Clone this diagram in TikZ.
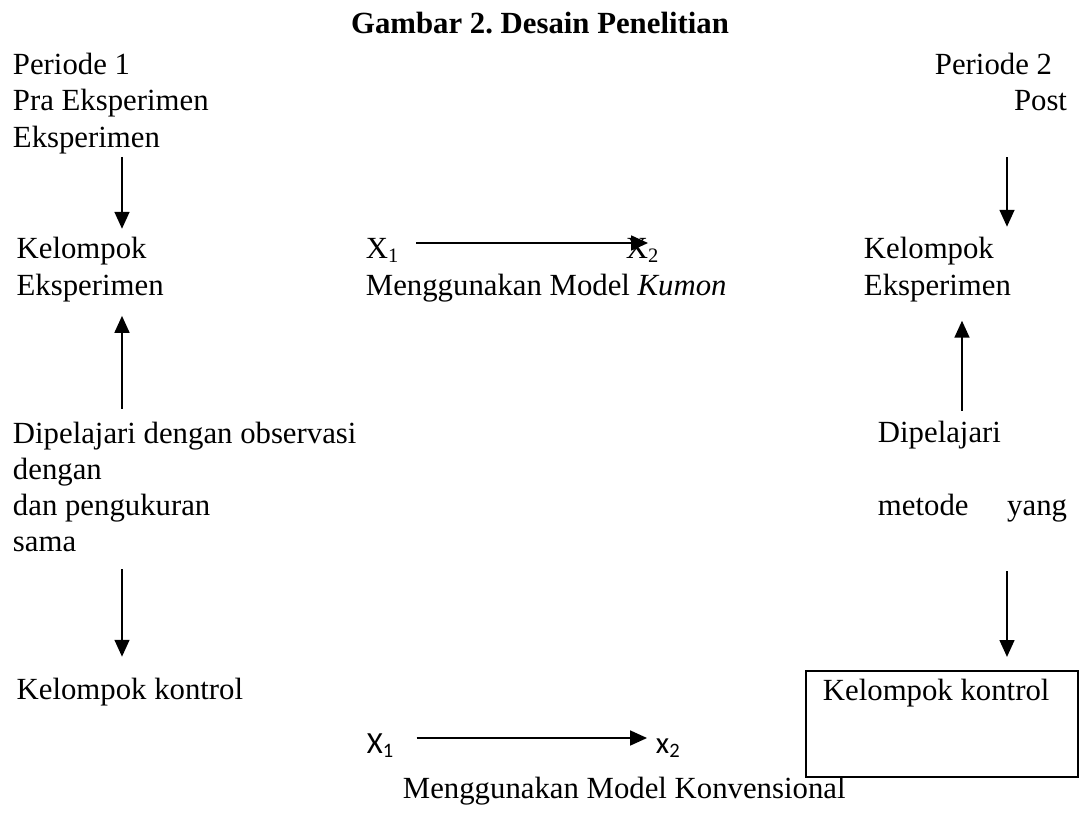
\documentclass[tikz,border=0pt]{standalone}
\usepackage{fontspec}
\setmainfont{Liberation Serif}
\newfontfamily\calibri{Carlito}
\usetikzlibrary{arrows.meta}
\def\pxsep{0.39pt}

\begin{document}
\begin{tikzpicture}[x=\pxsep, y=-\pxsep, line width=0.75pt, font=\fontsize{12pt}{14pt}\selectfont]
    \tikzstyle{txt}=[inner sep=0pt, anchor=base west]
    \tikzstyle{txtr}=[inner sep=0pt, anchor=base east]
    \tikzstyle{arr}=[-{Triangle[length=6.6pt,width=5.8pt]}]
    \tikzstyle{box}=[draw, inner sep=0pt, anchor=north west, minimum width=106.1pt, minimum height=41.3pt]

    \useasboundingbox (0,0) rectangle (1079,819);

    % Title
    \node[anchor=base, inner sep=0pt, font=\fontsize{12pt}{14pt}\selectfont\bfseries] (title) at (540,33) {Gambar 2.\ Desain Penelitian};

    % Columns and rows of the arrows
    \coordinate (colL) at (122,0);
    \coordinate (colM) at (962,0);
    \coordinate (colR) at (1007,0);
    \coordinate (rowT) at (0,243);
    \coordinate (rowB) at (0,738);

    % Draw the left column
    \foreach \name / \y / \txt in {1/74/Periode 1, 2/110/Pra Eksperimen, 3/147/Eksperimen}
        \node[txt] (P1-\name) at (12,\y) {\txt};
    \foreach \name / \y / \txt in {1/258/Kelompok, 2/295/Eksperimen}
        \node[txt] (K1-\name) at (15.7,\y) {\txt};
    \foreach \name / \y / \txt in {1/443/Dipelajari dengan observasi, 2/479/dengan, 3/515/dan pengukuran, 4/551/sama}
        \node[txt] (D1-\name) at (12,\y) {\txt};
    \node[txt] (KK1) at (15.7,699) {Kelompok kontrol};

    % Draw the right column
    \node[txtr] (P2-1) at (1053,74) {Periode 2};
    \node[txtr] (P2-2) at (1068,110) {Post};
    \foreach \name / \y / \txt in {1/258/Kelompok, 2/295/Eksperimen}
        \node[txt] (K2-\name) at (863,\y) {\txt};
    \node[txt] (D2-1) at (877,442) {Dipelajari};
    \node[txt] (D2-2) at (877,515) {metode};
    \node[txtr] (D2-3) at (1068,515) {yang};
    \node[box] (B2) at (805,670) {};
    \node[txt] (KK2) at (822,700) {Kelompok kontrol};

    % Draw the middle
    \node[txt] (X1) at (365,258) {X\textsubscript{1}};
    \node[txt] (X2) at (625,258) {X\textsubscript{2}};
    \node[txt] (M1) at (365,295) {Menggunakan Model \textit{Kumon}};
    \node[txt, font=\fontsize{12pt}{14pt}\selectfont\calibri] (BX1) at (366,753) {X\textsubscript{1}};
    \node[txt, font=\fontsize{12pt}{14pt}\selectfont\calibri] (BX2) at (655,753) {x\textsubscript{2}};
    \node[txt] (M2) at (402,798) {Menggunakan Model Konvensional};

    % Connect the groups
    \draw[arr, shorten <=0.9pt, shorten >=2.7pt] (P1-3.south -| colL) -- (K1-1.north -| colL);
    \draw[arr, shorten <=4.7pt, shorten >=5.2pt] (D1-1.north -| colL) -- (K1-2.south -| colL);
    \draw[arr, shorten <=6.6pt, shorten >=7.8pt] (D1-4.south -| colL) -- (KK1.north -| colL);
    \draw[arr, shorten <=17.9pt, shorten >=3.5pt] (P2-2.south -| colR) -- (K2-1.north -| colR);
    \draw[arr, shorten <=3.5pt, shorten >=7.1pt] (D2-1.north -| colM) -- (K2-2.south -| colM);
    \draw[arr, shorten <=18.9pt, shorten >=5.1pt] (D2-3.south -| colR) -- (B2.north -| colR);

    % Treatment arrows
    \draw[arr, shorten <=6pt, shorten >=-9pt] (X1.east |- rowT) -- (X2.west |- rowT);
    \draw[arr, shorten <=8.2pt, shorten >=3.1pt] (BX1.east |- rowB) -- (BX2.west |- rowB);
\end{tikzpicture}
\end{document}
